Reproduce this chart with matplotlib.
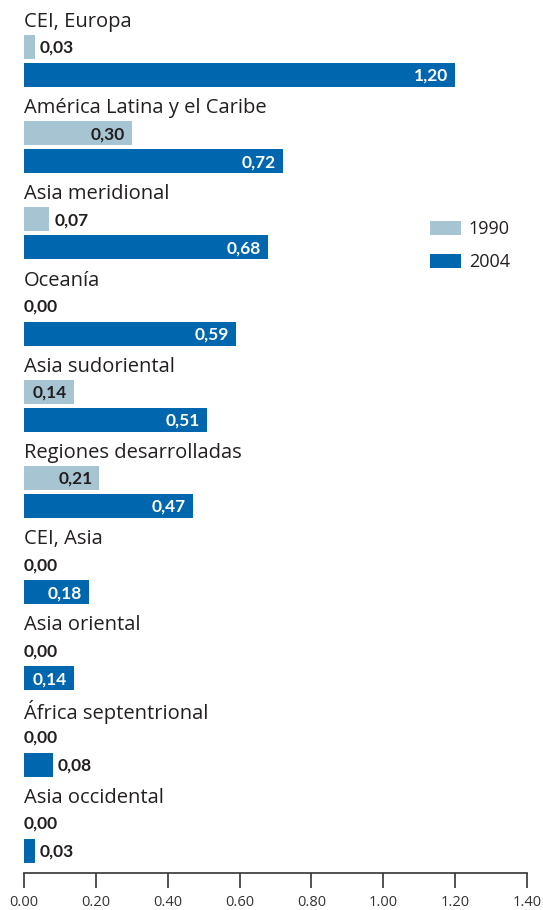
import matplotlib
matplotlib.use("Agg")
import matplotlib.pyplot as plt
from matplotlib.patches import Patch

categories = ["CEI, Europa", "América Latina y el Caribe", "Asia meridional", "Oceanía",
              "Asia sudoriental", "Regiones desarrolladas", "CEI, Asia", "Asia oriental",
              "África septentrional", "Asia occidental"]
v1990 = [0.03, 0.30, 0.07, 0.00, 0.14, 0.21, 0.00, 0.00, 0.00, 0.00]
v2004 = [1.20, 0.72, 0.68, 0.59, 0.51, 0.47, 0.18, 0.14, 0.08, 0.03]
xticks = [0.0, 0.2, 0.4, 0.6, 0.8, 1.0, 1.2, 1.4]
series_names = ["1990", "2004"]

C1990 = "#A7C4D3"
C2004 = "#0066AE"
DARK = "#231F20"
FONT = ["Open Sans", "DejaVu Sans"]
BOLDFONT = ["Lato", "DejaVu Sans"]
plt.rcParams['font.family'] = FONT

W, H = 543, 910
fig = plt.figure(figsize=(W / 100, H / 100), dpi=100)
x0, x1 = 24, 527
ybot = 873
ax = fig.add_axes([x0 / W, (H - ybot) / H, (x1 - x0) / W, ybot / H])
ax.set_xlim(0, 1.4)
ax.set_ylim(ybot, 0)

step = 86.2
bh = 24
ppu = (x1 - x0) / 1.4  # pixels per unit


def fmt(v):
    return f"{v:.2f}".replace(".", ",")


def value_label(v, yc, inside_color):
    kw = dict(va="center", fontsize=12.5, fontweight="bold", family=BOLDFONT)
    if v >= 0.13:
        ax.text(v - 7 / ppu, yc, fmt(v), ha="right", color=inside_color, **kw)
    elif v > 0:
        ax.text(v + 5 / ppu, yc, fmt(v), ha="left", color=DARK, **kw)
    else:
        ax.text(0, yc, fmt(v), ha="left", color=DARK, **kw)


for i, cat in enumerate(categories):
    base = i * step
    ax.text(0, base + 22, cat, ha="left", va="center", fontsize=14.5, color=DARK)
    y1 = base + 47
    y2 = base + 75
    if v1990[i] > 0:
        ax.barh(y1, v1990[i], height=bh, color=C1990, left=0)
    ax.barh(y2, v2004[i], height=bh, color=C2004, left=0)
    value_label(v1990[i], y1 + 1, DARK)
    value_label(v2004[i], y2 + 1, "white")

for s in ["top", "right", "left"]:
    ax.spines[s].set_visible(False)
ax.spines["bottom"].set_color("#333333")
ax.spines["bottom"].set_linewidth(1.2)
ax.set_yticks([])
ax.set_xticks(xticks)
ax.set_xticklabels([f"{t:.2f}" for t in xticks])
ax.tick_params(axis="x", direction="out", length=11, width=1.2, color="#333333",
               labelsize=10.5, labelcolor="#333333", pad=5)

handles = [Patch(facecolor=C1990, edgecolor="none"), Patch(facecolor=C2004, edgecolor="none")]
leg = fig.legend(handles, series_names, loc="upper left",
                 bbox_to_anchor=(430 / W, 1 - 220 / H), bbox_transform=fig.transFigure,
                 frameon=False, fontsize=13, handlelength=1.7, handleheight=0.8,
                 handletextpad=0.45, labelspacing=0.85, borderpad=0, borderaxespad=0)
for t in leg.get_texts():
    t.set_color(DARK)

fig.savefig("out.png", dpi=100)
